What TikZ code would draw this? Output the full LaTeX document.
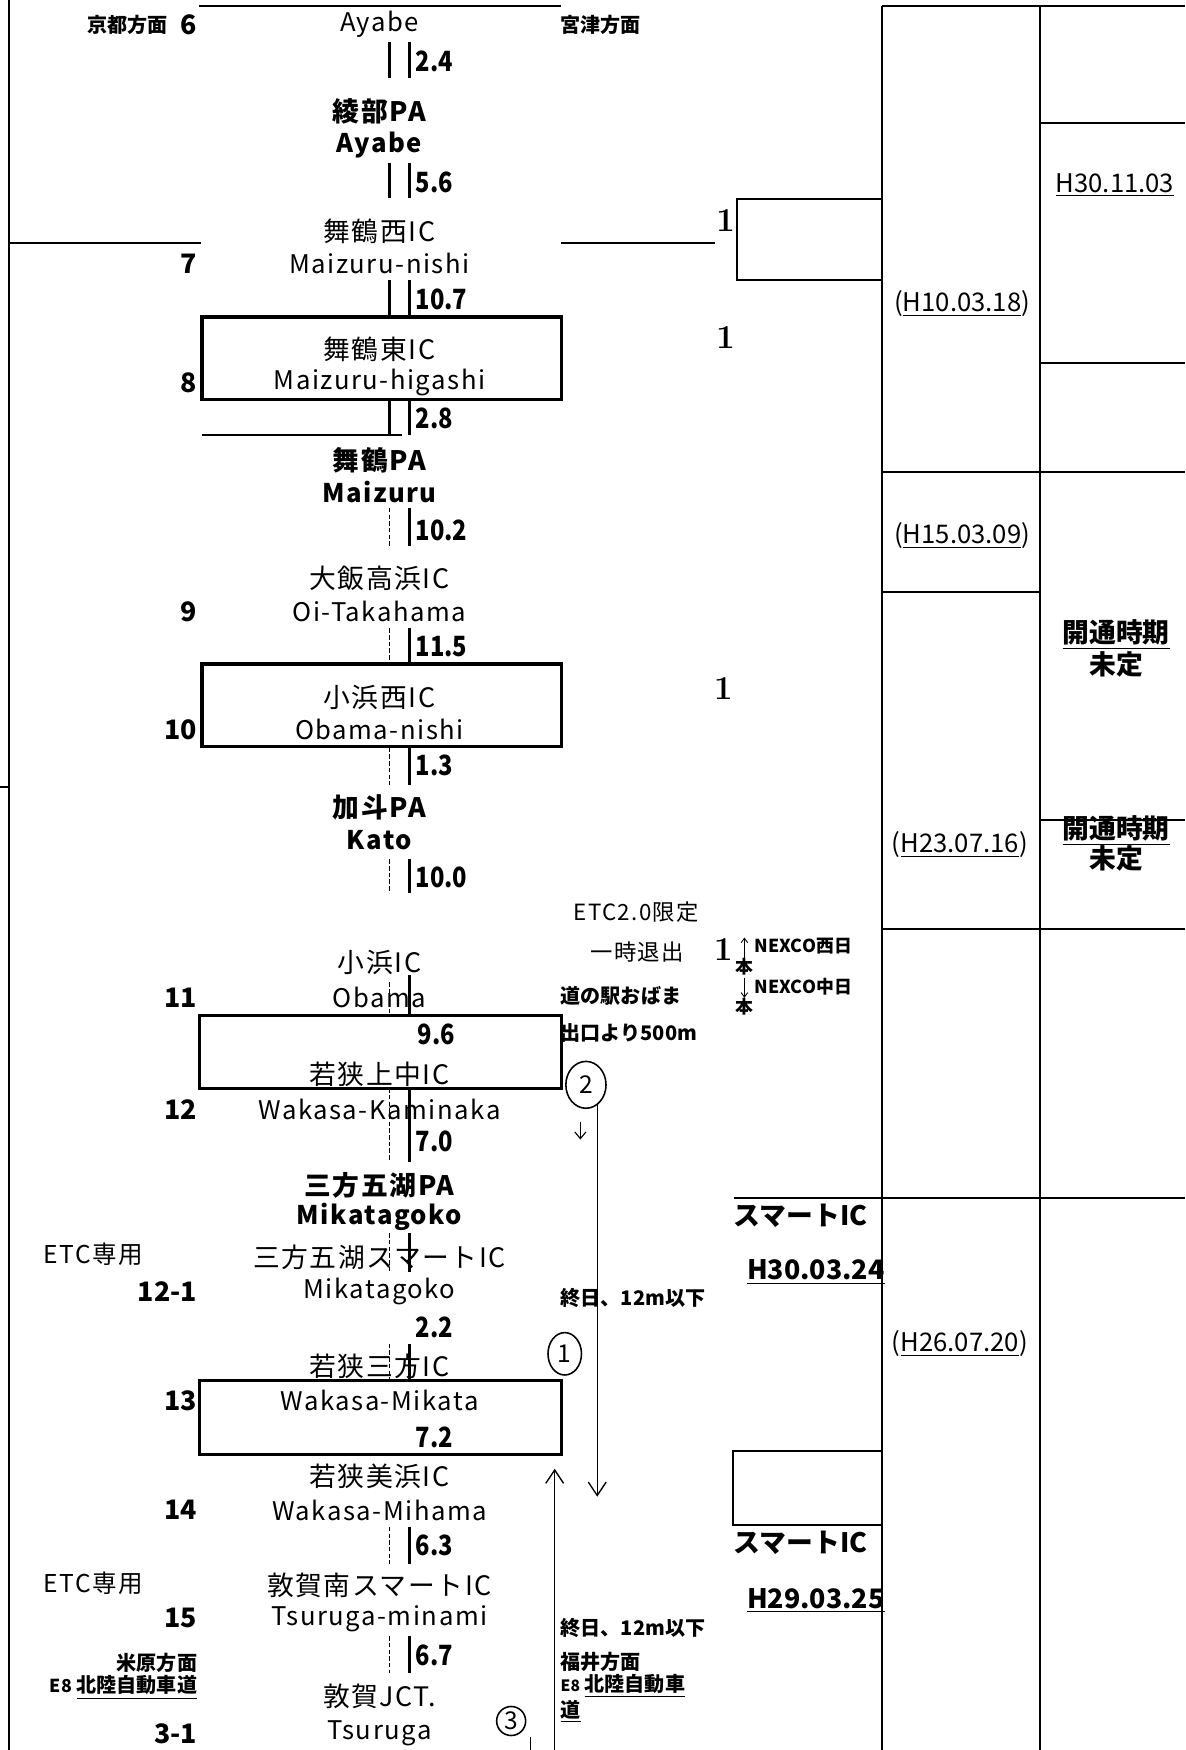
\documentclass[tikz,border=0pt]{standalone}
\usepackage{fontspec}
\newfontfamily\jpfont{Noto Sans CJK JP}
\newfontfamily\jpwide{Noto Sans CJK JP}[LetterSpace=6]
\newfontfamily\jpnarrow{Noto Sans CJK JP}[FakeStretch=0.85]
\usetikzlibrary{arrows.meta,shapes.geometric}

\tikzset{
  stn/.style={inner sep=0pt, font=\jpwide\fontsize{12}{12}\selectfont},
  pa/.style={inner sep=0pt, font=\jpwide\bfseries\fontsize{12}{12}\selectfont},
  rom/.style={inner sep=0pt, font=\jpwide\fontsize{11.5}{11.5}\selectfont},
  parom/.style={inner sep=0pt, font=\jpwide\bfseries\fontsize{11.5}{11.5}\selectfont},
  exitno/.style={inner sep=0pt, anchor=east, font=\jpfont\bfseries\fontsize{12}{12}\selectfont},
  dist/.style={inner sep=0pt, anchor=west, font=\jpnarrow\bfseries\fontsize{12.5}{12.5}\selectfont},
  dirtxt/.style={inner sep=0pt, font=\jpfont\bfseries\fontsize{9}{9}\selectfont},
  etc/.style={inner sep=0pt, anchor=west, font=\jpwide\fontsize{11}{11}\selectfont},
  note/.style={inner sep=0pt, anchor=west, font=\jpfont\bfseries\fontsize{9}{9}\selectfont},
  date/.style={inner sep=0pt, font=\jpfont\fontsize{11.5}{11.5}\selectfont},
  bdate/.style={inner sep=0pt, font=\jpfont\bfseries\fontsize{12}{12}\selectfont},
  nexco/.style={inner sep=0pt, font=\jpfont\bfseries\fontsize{8}{8}\selectfont},
  lane/.style={inner sep=0pt, font=\rmfamily\bfseries\fontsize{15}{15}\selectfont},
  circno/.style={draw, ellipse, inner sep=0pt, line width=0.7pt, font=\jpfont\fontsize{11}{11}\selectfont},
  icbox/.style={line width=1.5pt},
  bar/.style={line width=1.6pt},
  dbar/.style={line width=0.5pt, dash pattern=on 2pt off 1pt},
  rule/.style={line width=0.9pt},
  barb/.style={line width=0.6pt, -{Straight Barb[length=6pt,width=8pt]}},
  sbarb/.style={line width=0.5pt, -{Straight Barb[length=3pt,width=5pt]}}
}

\begin{document}
\begin{tikzpicture}[x=0.5pt,y=-0.5pt]
\useasboundingbox (0,0) rectangle (1062,1568);

% left frame
\draw[rule] (8,0) -- (8,1568);
\draw[rule] (0,705) -- (8,705);
\draw[rule] (178,5) -- (503,5);
\draw[rule] (8,218) -- (180,218);
\draw[rule] (503,218) -- (641,218);
\draw[rule] (181,390) -- (360,390);

% interchange boxes
\draw[icbox] (181,284) rectangle (503,358);
\draw[icbox] (181,595) rectangle (503,669);
\draw[icbox] (179,910) rectangle (503,975);
\draw[icbox] (179,1237) rectangle (503,1303);

% road (double line)
\draw[bar] (349,38) -- (349,70) (367,38) -- (367,70);
\draw[bar] (349,146) -- (349,177) (367,146) -- (367,177);
\draw[bar] (349,251) -- (349,284) (367,251) -- (367,284);
\draw[bar] (349,358) -- (349,390) (367,358) -- (367,390);
\draw[dbar] (349,455) -- (349,489); \draw[bar] (367,455) -- (367,489);
\draw[dbar] (349,563) -- (349,595); \draw[bar] (367,563) -- (367,595);
\draw[dbar] (349,670) -- (349,703); \draw[bar] (367,670) -- (367,703);
\draw[dbar] (349,770) -- (349,800); \draw[bar] (367,770) -- (367,800);
\draw[dbar] (349,880) -- (349,910); \draw[bar] (367,874) -- (367,910);
\draw[dbar] (349,975) -- (349,1041); \draw[bar] (367,975) -- (367,1041);
\draw[dbar] (349,1105) -- (349,1140); \draw[bar] (367,1105) -- (367,1140);
\draw[dbar] (349,1204) -- (349,1237); \draw[bar] (367,1204) -- (367,1237);
\draw[dbar] (349,1368) -- (349,1401); \draw[bar] (367,1368) -- (367,1401);
\draw[dbar] (349,1466) -- (349,1499); \draw[bar] (367,1466) -- (367,1499);

% stations
\node[dirtxt, anchor=east] (kyoto) at (151,22) {京都方面};
\node[exitno] (x6) at (177,22) {6};
\node[rom] (ayabeIC) at (340,22) {Ayabe};
\node[dirtxt, anchor=west] (miyazu) at (502,22) {宮津方面};
\node[dist] (d1) at (372,55) {2.4};
\node[pa] (ayabePA) at (340,100) {綾部PA};
\node[parom] (ayabePAen) at (340,130) {Ayabe};
\node[dist] (d2) at (372,163) {5.6};
\node[stn] (mznishi) at (340,207) {舞鶴西IC};
\node[exitno] (x7) at (177,236) {7};
\node[rom] (mznishien) at (340,236) {Maizuru-nishi};
\node[dist] (d3) at (372,268) {10.7};
\node[stn] (mzhigashi) at (340,313) {舞鶴東IC};
\node[exitno] (x8) at (177,343) {8};
\node[rom] (mzhigashien) at (340,343) {Maizuru-higashi};
\node[dist] (d4) at (372,375) {2.8};
\node[pa] (mzPA) at (340,412) {舞鶴PA};
\node[parom] (mzPAen) at (340,441) {Maizuru};
\node[dist] (d5) at (372,475) {10.2};
\node[stn] (oi) at (340,518) {大飯高浜IC};
\node[exitno] (x9) at (177,548) {9};
\node[rom] (oien) at (340,548) {Oi-Takahama};
\node[dist] (d6) at (372,579) {11.5};
\node[stn] (obnishi) at (340,625) {小浜西IC};
\node[exitno] (x10) at (177,654) {10};
\node[rom] (obnishien) at (340,654) {Obama-nishi};
\node[dist] (d7) at (372,686) {1.3};
\node[pa] (katoPA) at (340,723) {加斗PA};
\node[parom] (katoPAen) at (340,753) {Kato};
\node[dist] (d8) at (372,786) {10.0};
\node[stn] (obama) at (340,862) {小浜IC};
\node[exitno] (x11) at (177,894) {11};
\node[rom] (obamaen) at (340,894) {Obama};
\node[dist] (d9) at (374,927) {9.6};
\node[stn] (kaminaka) at (340,963) {若狭上中IC};
\node[exitno] (x12) at (177,994) {12};
\node[rom] (kaminakaen) at (340,994) {Wakasa-Kaminaka};
\node[dist] (d10) at (372,1023) {7.0};
\node[pa] (mikataPA) at (340,1062) {三方五湖PA};
\node[parom] (mikataPAen) at (340,1090) {Mikatagoko};
\node[etc] (etc1) at (39,1124) {ETC専用};
\node[stn] (mikataSIC) at (340,1127) {三方五湖スマートIC};
\node[exitno] (x121) at (177,1157) {12-1};
\node[rom] (mikataSICen) at (340,1157) {Mikatagoko};
\node[dist] (d11) at (372,1189) {2.2};
\node[stn] (mikata) at (340,1224) {若狭三方IC};
\node[exitno] (x13) at (177,1255) {13};
\node[rom] (mikataen) at (340,1255) {Wakasa-Mikata};
\node[dist] (d12) at (372,1288) {7.2};
\node[stn] (mihama) at (340,1323) {若狭美浜IC};
\node[exitno] (x14) at (177,1353) {14};
\node[rom] (mihamaen) at (340,1353) {Wakasa-Mihama};
\node[dist] (d13) at (372,1385) {6.3};
\node[etc] (etc2) at (39,1419) {ETC専用};
\node[stn] (tsminami) at (340,1420) {敦賀南スマートIC};
\node[exitno] (x15) at (177,1450) {15};
\node[rom] (tsminamien) at (340,1450) {Tsuruga-minami};
\node[dist] (d14) at (372,1483) {6.7};
\node[dirtxt, anchor=east] (maibara) at (177,1490) {米原方面};
\node[dirtxt, anchor=east] (hokurikuW) at (177,1512) {{\fontsize{8}{8}\selectfont E8} \underline{北陸自動車道}};
\node[stn] (tsjct) at (340,1520) {敦賀JCT.};
\node[exitno] (x31) at (177,1553) {3-1};
\node[rom] (tsjcten) at (340,1553) {Tsuruga};

% notes beside the road
\node[inner sep=0pt, font=\jpwide\fontsize{10}{10}\selectfont] (etc20) at (570,817) {ETC2.0限定};
\node[inner sep=0pt, font=\jpwide\fontsize{10}{10}\selectfont] (ichiji) at (571,853) {一時退出};
\node[note] (michi) at (502,892) {道の駅おばま};
\node[note] (deguchi) at (502,926) {出口より500m};
\node[circno, minimum width=18pt, minimum height=21pt] (c2) at (525,972) {2};
\draw[sbarb] (520,1005) -- (520,1021);
\coordinate (a2end) at (535,1341);
\draw[barb] (c2.-61) -- (c2.-61 |- a2end);
\node[note] (allday1) at (502,1163) {終日、12m以下};
\node[circno, minimum width=15pt, minimum height=19pt] (c1) at (506,1213) {1};
\coordinate (a1start) at (497,1575);
\coordinate (a1end) at (497,1316);
\draw[barb] (a1start) -- (a1end);
\node[note] (allday2) at (502,1459) {終日、12m以下};
\node[note, anchor=north west, align=left, font=\jpfont\bfseries\fontsize{9}{8.5}\selectfont] (fukui) at (502,1480) {福井方面\\{\fontsize{7}{7}\selectfont E8} \underline{北陸自動車}\\\underline{道}};
\node[circno, circle, minimum size=13pt] (c3) at (458,1542) {3};
\draw[sbarb] (475,1556) -- (475,1576);

% lane counts
\node[lane] (ln1) at (650,198) {1};
\node[lane] (ln2) at (650,302) {1};
\node[lane] (ln3) at (648,617) {1};
\node[lane] (ln4) at (648,851) {1};
\node[nexco, anchor=west] (nxw) at (676,848) {NEXCO西日};
\node[nexco] (honw) at (667,866) {本};
\node[nexco, anchor=west] (nxc) at (676,884) {NEXCO中日};
\node[nexco] (honc) at (667,902) {本};
\draw[line width=0.4pt, -{Straight Barb[length=2pt,width=3pt]}] (honw.north) -- ++(0,-18);
\draw[line width=0.4pt, -{Straight Barb[length=2pt,width=3pt]}] ([yshift=-1pt]honw.south) -- (honc.north);

% opening table
\draw[rule] (790,5) -- (790,1568);
\draw[rule] (932,5) -- (932,1568);
\draw[rule] (790,5) -- (1062,5);
\draw[rule] (932,110) -- (1062,110);
\draw[rule] (932,325) -- (1062,325);
\draw[rule] (790,423) -- (1062,423);
\draw[rule] (790,530) -- (932,530);
\draw[rule] (932,735) -- (1062,735);
\draw[rule] (790,832) -- (1062,832);
\draw[rule] (658,1073) -- (1062,1073);
\draw[rule] (790,178) -- (660,178) -- (660,251) -- (790,251);
\draw[rule] (790,1300) -- (657,1300) -- (657,1366) -- (790,1366);

\node[date] (t1) at (862,272) {(\underline{H10.03.18})};
\node[date] (t2) at (999,166) {\underline{H30.11.03}};
\node[date] (t3) at (862,480) {(\underline{H15.03.09})};
\node[bdate] (t4) at (1000,569) {\underline{開通時期}};
\node[bdate] (t4b) at (1000,595) {未定};
\node[date] (t5) at (860,757) {(\underline{H23.07.16})};
\node[bdate] (t6) at (1000,744) {\underline{開通時期}};
\node[bdate] (t6b) at (1000,769) {未定};
\node[bdate, anchor=west] (smart1) at (657,1089) {スマートIC};
\node[bdate, anchor=west] (t7) at (669,1140) {\underline{H30.03.24}};
\node[date] (t8) at (860,1204) {(\underline{H26.07.20})};
\node[bdate, anchor=west] (smart2) at (657,1382) {スマートIC};
\node[bdate, anchor=west] (t9) at (669,1434) {\underline{H29.03.25}};
\end{tikzpicture}
\end{document}
